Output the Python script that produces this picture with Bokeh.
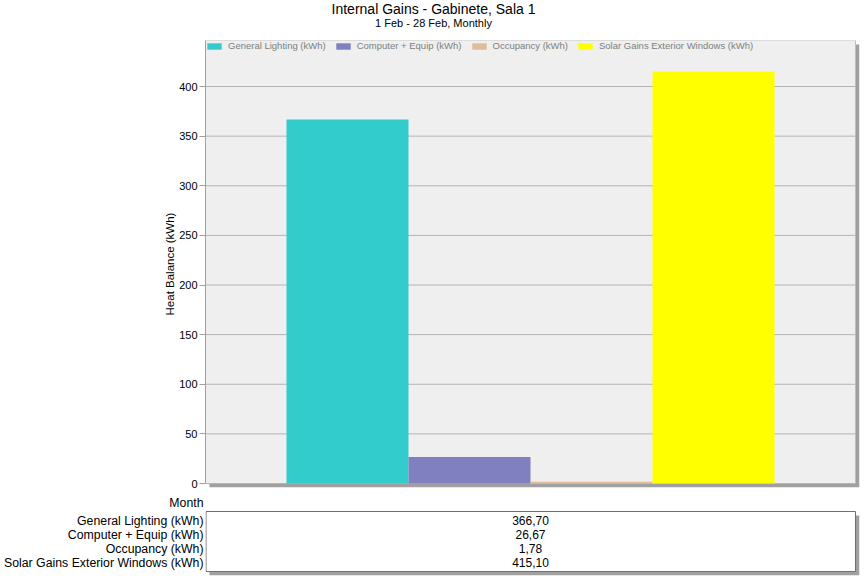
from bokeh.plotting import figure
from bokeh.models import ColumnDataSource, Range1d, FixedTicker
from bokeh.layouts import column
from bokeh.embed import file_html
from bokeh.resources import INLINE
from bokeh.core.properties import value

# ---------------- data ----------------
title = "Internal Gains - Gabinete, Sala 1"
subtitle = "1 Feb - 28 Feb, Monthly"
series = ["General Lighting (kWh)", "Computer + Equip (kWh)",
          "Occupancy (kWh)", "Solar Gains Exterior Windows (kWh)"]
values = [366.70, 26.67, 1.78, 415.10]
value_labels = ["366,70", "26,67", "1,78", "415,10"]
colors = ["#33CCCC", "#8080C0", "#E0BC98", "#FFFF00"]
y_ticks = [0, 50, 100, 150, 200, 250, 300, 350, 400]
y_label = "Heat Balance (kWh)"
row_header = "Month"

# ---------------- layout / style ----------------
FONT = "Liberation Sans"
W = 866
HDR_H = 40          # canvas 0..40
CH_H = 450          # canvas 40..490
TB_H = 90           # canvas 490..580
PL, PR = 205, 855   # plot area left/right (canvas px)
PH = 443            # plot area height (canvas 40..483)
SH = 4              # shadow offset
BAR_PX = 122        # px per category
KY = 397 / 400.0    # px per y unit
PLOT_BG = "#EEEFEE"
GRID = "#B4B4B4"
SHADOW = "#A0A0A0"

n = len(series)
x0 = -0.5 - ((PR - PL) - n * BAR_PX) / 2.0 / BAR_PX
xl = x0
xr = x0 + (PR - PL) / BAR_PX
yt = PH / KY
dx = SH / BAR_PX
dy = SH / KY

common = dict(output_backend="svg", toolbar_location=None, title=None,
              outline_line_color=None, background_fill_color="white",
              border_fill_color="white")

# ---------------- header (frame is aligned with the chart frame) ----------------
hdr = figure(width=W, height=HDR_H, x_range=Range1d(PL, PR + SH), y_range=Range1d(HDR_H, 0),
             min_border=0, x_axis_type=None, y_axis_type=None, **common)
hdr.text(x=[W / 2, W / 2], y=[8.5, 22], text=[title, subtitle],
         text_font=value(FONT), text_font_size=["14px", "11px"],
         text_align="center", text_baseline="middle", text_color="black")

# ---------------- chart ----------------
p = figure(width=W, height=CH_H,
           x_range=Range1d(xl, xr + dx), y_range=Range1d(-dy, yt),
           min_border_left=PL, min_border_right=W - (PR + SH),
           min_border_top=0, min_border_bottom=CH_H - (PH + SH),
           x_axis_type=None, **common)
p.grid.visible = False

# shadow + plot background
p.quad(left=[xl + dx], right=[xr + dx], top=[yt - dy], bottom=[-dy],
       fill_color=SHADOW, line_color=None)
p.quad(left=[xl], right=[xr], top=[yt], bottom=[0],
       fill_color=PLOT_BG, line_color="#BDBDBD", line_width=1)
# grid lines
p.segment(x0=[xl] * len(y_ticks), x1=[xr] * len(y_ticks), y0=y_ticks, y1=y_ticks,
          line_color=GRID, line_width=1)

src = ColumnDataSource(dict(x=list(range(n)), top=values, color=colors, series=series))
p.vbar(x="x", top="top", width=1.0, bottom=0, source=src,
       fill_color="color", line_color=None, legend_field="series")

lg = p.legend[0]
lg.location = "top_left"
lg.orientation = "horizontal"
lg.margin = 0
lg.padding = 2
lg.spacing = 8
lg.glyph_width = 18
lg.glyph_height = 8
lg.label_height = 10
lg.label_standoff = 5
lg.label_text_font = FONT
lg.label_text_font_size = "9.5px"
lg.label_text_color = "#808080"
lg.background_fill_alpha = 0
lg.border_line_color = None

ya = p.yaxis[0]
ya.ticker = FixedTicker(ticks=y_ticks)
ya.bounds = (0, yt)
ya.axis_label = y_label
ya.axis_label_text_font = FONT
ya.axis_label_text_font_size = "11.5px"
ya.axis_label_text_font_style = "normal"
ya.axis_label_text_color = "black"
ya.axis_label_standoff = 0
ya.major_label_text_font = FONT
ya.major_label_text_font_size = "11px"
ya.major_label_text_color = "black"
ya.major_label_standoff = 2
ya.axis_line_color = "#A0A0A0"
ya.major_tick_line_color = "#A0A0A0"
ya.major_tick_out = 6
ya.major_tick_in = 0
ya.minor_tick_out = 0
ya.minor_tick_in = 0

# ---------------- data table (frame aligned with chart frame) ----------------
FR_H = 85                      # table frame height (canvas 490..575)
BT, BB = 21, 81                # box top/bottom inside table frame
MONTH_Y, ROW0, ROW_DY = 12, 30, 14
rows_y = [ROW0 + i * ROW_DY for i in range(n)]
tb = figure(width=W, height=TB_H, x_range=Range1d(PL, PR + SH), y_range=Range1d(FR_H, 0),
            min_border_top=0, min_border_bottom=TB_H - FR_H,
            min_border_left=PL, min_border_right=W - (PR + SH),
            x_axis_type=None, **common)
tb.grid.visible = False
tb.quad(left=[PL + SH], right=[PR + SH], top=[BT + SH], bottom=[BB + SH],
        fill_color=SHADOW, line_color=None)
tb.quad(left=[PL + 0.5], right=[PR], top=[BT], bottom=[BB],
        fill_color="white", line_color="#707070", line_width=1)
tb.text(x=[(PL + PR) / 2] * n, y=rows_y, text=value_labels, text_font=value(FONT),
        text_font_size="12px", text_align="center", text_baseline="middle",
        text_color="black")

ta = tb.yaxis[0]
ta.ticker = FixedTicker(ticks=[MONTH_Y] + rows_y)
ta.major_label_overrides = {MONTH_Y: row_header, **{y: s for y, s in zip(rows_y, series)}}
ta.major_label_text_font = FONT
ta.major_label_text_font_size = "12.3px"
ta.major_label_text_color = "black"
ta.major_label_standoff = 2
ta.axis_line_color = None
ta.major_tick_line_color = None
ta.minor_tick_line_color = None
ta.major_tick_out = 0
ta.major_tick_in = 0

layout = column(hdr, p, tb, spacing=0)
open("out.html", "w").write(file_html(layout, INLINE))
